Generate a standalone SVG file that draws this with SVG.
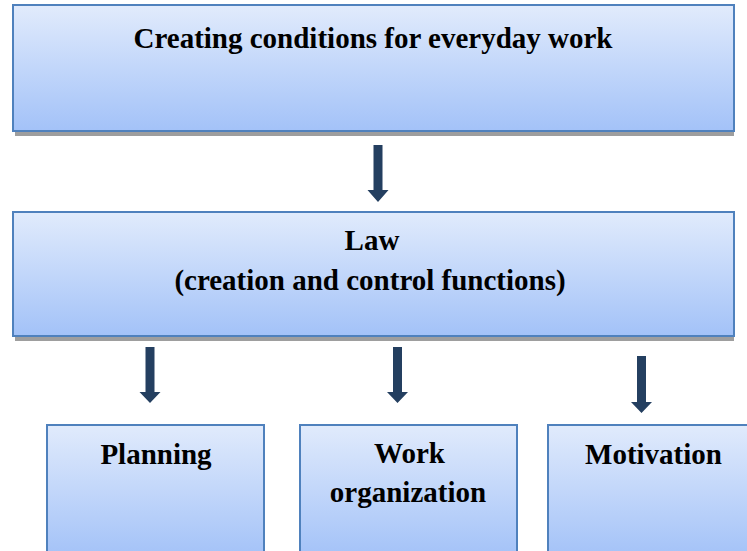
<svg xmlns="http://www.w3.org/2000/svg" width="747" height="551" viewBox="0 0 747 551">
  <defs>
    <linearGradient id="boxFill" x1="0" y1="0" x2="0" y2="1">
      <stop offset="0" stop-color="#e1ebfc"/>
      <stop offset="1" stop-color="#a3c2f8"/>
    </linearGradient>
    <linearGradient id="boxFillTall" gradientUnits="userSpaceOnUse" x1="0" y1="424" x2="0" y2="551">
      <stop offset="0" stop-color="#e1ebfc"/>
      <stop offset="1" stop-color="#a6c4f8"/>
    </linearGradient>
    <style>
      .box { fill: url(#boxFill); stroke: #4f81bd; stroke-width: 2; }
      .boxLow { fill: url(#boxFillTall); stroke: #4f81bd; stroke-width: 2; }
      .shadow { fill: #9e9e9e; }
      .label { font-family: "Liberation Serif", "Times New Roman", serif; font-weight: bold; font-size: 29px; fill: #000; text-anchor: middle; }
      .arrow { fill: #243f60; }
    </style>
  </defs>
  <rect width="747" height="551" fill="#ffffff"/>

  <g id="node-conditions">
    <rect class="shadow" x="15" y="131" width="719" height="5"/>
    <rect class="box" x="13" y="5" width="721" height="126"/>
    <text class="label" x="373" y="48">Creating conditions for everyday work</text>
  </g>

  <g id="node-law">
    <rect class="shadow" x="15" y="336" width="719" height="5"/>
    <rect class="box" x="13" y="212" width="721" height="124"/>
    <text class="label" x="372" y="250">Law</text>
    <text class="label" x="370" y="290">(creation and control functions)</text>
  </g>

  <g id="node-planning">
    <rect class="boxLow" x="47" y="425" width="217" height="140"/>
    <text class="label" x="156" y="464">Planning</text>
  </g>

  <g id="node-work-organization">
    <rect class="boxLow" x="300" y="425" width="217" height="140"/>
    <text class="label" x="409.5" y="463">Work</text>
    <text class="label" x="408" y="502">organization</text>
  </g>

  <g id="node-motivation">
    <rect class="boxLow" x="548" y="425" width="210" height="140"/>
    <text class="label" x="653.5" y="464">Motivation</text>
  </g>

  <g id="connectors">
    <path class="arrow" d="M373.5 145 h9 v45 h6 l-10.5 12 l-10.5 -12 h6 z"/>
    <path class="arrow" d="M145.5 347 h9 v45 h6 l-10.5 11 l-10.5 -11 h6 z"/>
    <path class="arrow" d="M393 347 h9 v45 h6 l-10.5 11 l-10.5 -11 h6 z"/>
    <path class="arrow" d="M637 356 h9 v46 h6 l-10.5 11 l-10.5 -11 h6 z"/>
  </g>
</svg>
